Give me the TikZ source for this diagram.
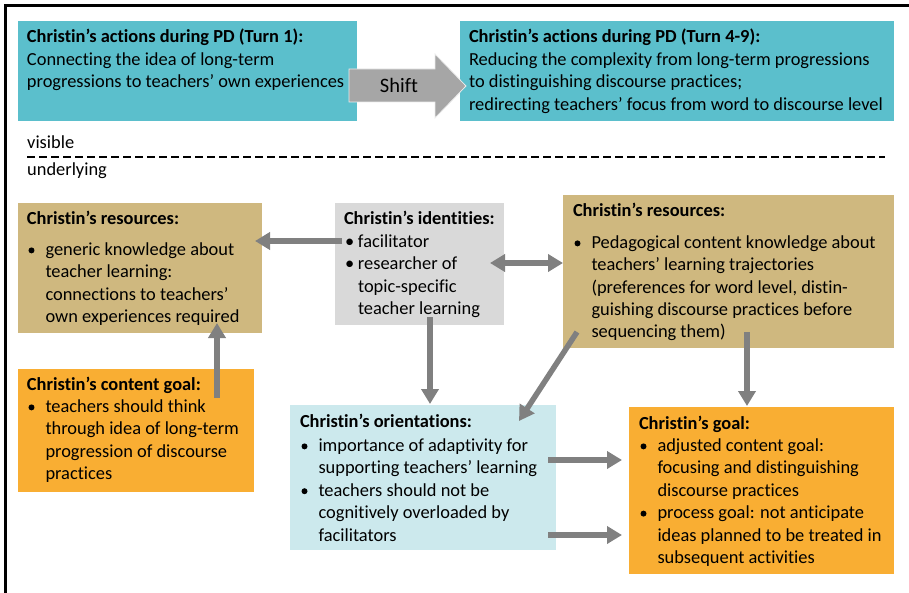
\documentclass[tikz,border=0pt]{standalone}
\usepackage{fontspec}
\setmainfont[Ligatures=NoCommon]{Carlito}
\usetikzlibrary{arrows.meta,calc}
\definecolor{cTeal}{HTML}{5BBFCC}
\definecolor{cTan}{HTML}{CFB87F}
\definecolor{cGrayBox}{HTML}{D9D9D9}
\definecolor{cOrange}{HTML}{F9AE33}
\definecolor{cLblue}{HTML}{CCE9ED}
\definecolor{cArrow}{HTML}{808080}
\definecolor{cShift}{HTML}{A6A6A6}
\newcommand\bdot{\tikz[baseline=0pt]\fill (3pt,5pt) circle[radius=3pt];}
\newcommand\bi[1]{\makebox[18.5pt][l]{\hspace{1.5pt}\bdot}#1}
\newcommand\ci[1]{\hspace*{18.5pt}#1}
\newcommand\si[1]{\makebox[14pt][l]{\hspace{1pt}•}#1}
\newcommand\sci[1]{\hspace*{14pt}#1}
\begin{document}
\begin{tikzpicture}[x=1pt,y=-1pt,
  box/.style={anchor=north west, inner sep=0pt, outer sep=0pt},
  txt/.style={anchor=base west, inner sep=0pt, outer sep=0pt, font=\fontsize{18.4}{22.4}\selectfont},
  lbl/.style={anchor=base west, inner sep=0pt, font=\fontsize{18.4}{22}\selectfont},
  arr/.style={line width=5.5pt, draw=cArrow, -{Triangle[width=17pt,length=15pt]}},
  darr/.style={line width=5.5pt, draw=cArrow, {Triangle[width=17pt,length=15pt]}-{Triangle[width=17pt,length=15pt]}},
]
\useasboundingbox (0,0) rectangle (909,593);
% frame
\draw[line width=2.5pt] (5.5,593) -- (5.5,5.5) -- (909,5.5);

% top boxes
\node[box, fill=cTeal, minimum width=339pt, minimum height=100pt] (a) at (18,21) {};
\node[box, fill=cTeal, minimum width=434pt, minimum height=100pt] (b) at (460,21) {};
\node[txt] (atxt) at ($(a.north west)+(9,22)$) {\parbox[t]{330pt}{\textbf{Christin’s actions during PD (Turn 1):}\\
Connecting the idea of long-term\\
progressions to teachers’ own experiences}};
\node[txt] (btxt) at ($(b.north west)+(9,22)$) {\parbox[t]{425pt}{\textbf{Christin’s actions during PD (Turn 4-9):}\\
Reducing the complexity from long-term progressions\\
to distinguishing discourse practices;\\
redirecting teachers’ focus from word to discourse level}};

% shift arrow
\draw[fill=cShift, draw=white!85!gray, line width=0.8pt] (349,69) -- (435,69) -- (435,54) -- (466,86) -- (435,118) -- (435,102) -- (349,102) -- cycle;
\node[anchor=base, inner sep=0pt, font=\fontsize{20.5}{24}\selectfont] (shift) at (399,93) {Shift};

% visible / underlying
\node[lbl] (vis) at (27,149) {visible};
\draw[line width=1.8pt, dash pattern=on 8pt off 4pt] (27,157) -- (885,157);
\node[lbl] (und) at (27,176) {underlying};

% boxes
\node[box, fill=cTan, minimum width=244pt, minimum height=130pt] (c) at (18,203) {};
\node[box, fill=cGrayBox, minimum width=169pt, minimum height=122pt] (d) at (335,203) {};
\node[box, fill=cTan, minimum width=331pt, minimum height=153pt] (e) at (563,195) {};
\node[box, fill=cOrange, minimum width=236pt, minimum height=123pt] (f) at (18,369) {};
\node[box, fill=cLblue, minimum width=266pt, minimum height=145pt] (g) at (290,405) {};
\node[box, fill=cOrange, minimum width=265pt, minimum height=167pt] (h) at (629,407) {};

\node[txt] (ctxt) at ($(c.north west)+(9,22)$) {\parbox[t]{235pt}{\textbf{Christin’s resources:}\\[8pt]
\bi{generic knowledge about}\\
\ci{teacher learning:}\\
\ci{connections to teachers’}\\
\ci{own experiences required}}};
\node[txt] (dtxt) at ($(d.north west)+(9,22)$) {\parbox[t]{160pt}{\textbf{Christin’s identities:}\\
\si{facilitator}\\
\si{researcher of}\\
\sci{topic-specific}\\
\sci{teacher learning}}};
\node[txt] (etxt) at ($(e.north west)+(10,22)$) {\parbox[t]{320pt}{\textbf{Christin’s resources:}\\[9pt]
\bi{Pedagogical content knowledge about}\\
\ci{teachers’ learning trajectories}\\
\ci{(preferences for word level, distin-}\\
\ci{guishing discourse practices before}\\
\ci{sequencing them)}}};
\node[txt] (ftxt) at ($(f.north west)+(9,21)$) {\parbox[t]{226pt}{\textbf{Christin’s content goal:}\\
\bi{teachers should think}\\
\ci{through idea of long-term}\\
\ci{progression of discourse}\\
\ci{practices}}};
\node[txt] (gtxt) at ($(g.north west)+(10,22)$) {\parbox[t]{255pt}{\textbf{Christin’s orientations:}\\[2pt]
\bi{importance of adaptivity for}\\
\ci{supporting teachers’ learning}\\
\bi{teachers should not be}\\
\ci{cognitively overloaded by}\\
\ci{facilitators}}};
\node[txt] (htxt) at ($(h.north west)+(10,22)$) {\parbox[t]{255pt}{\textbf{Christin’s goal:}\\
\bi{adjusted content goal:}\\
\ci{focusing and distinguishing}\\
\ci{discourse practices}\\
\bi{process goal: not anticipate}\\
\ci{ideas planned to be treated in}\\
\ci{subsequent activities}}};

% connectors
\draw[arr] ($(d.north west)+(7,38)$) -- ($(c.north east)+(-7,38)$);
\draw[darr] ($(d.north east)+(-14,60)$) -- ($(e.north west)+(0,68)$);
\draw[arr] ($(f.north west)+(199,29)$) -- ($(c.south west)+(199,-10)$);
\draw[arr] ($(d.south west)+(95,-8)$) -- ($(g.north west)+(140,-1)$);
\draw[arr] ($(e.south west)+(14,-16)$) -- ($(g.north east)+(-37,16)$);
\draw[arr] ($(e.south west)+(184,-16)$) -- ($(h.north west)+(118,-1)$);
\draw[arr] ($(g.north east)+(-8,55)$) -- ($(h.north west)+(-7,53)$);
\draw[arr] ($(g.north east)+(-8,130)$) -- ($(h.north west)+(-7,128)$);
\end{tikzpicture}
\end{document}
